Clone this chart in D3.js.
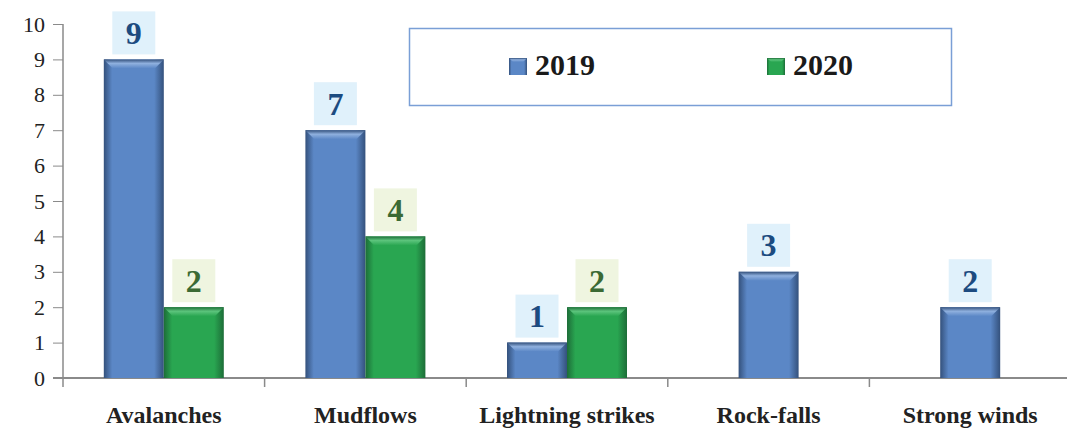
<!DOCTYPE html>
<html lang="en">
<head>
    <meta charset="UTF-8">
    <title>Natural hazards 2019-2020</title>
    <script src="https://d3js.org/d3.v7.min.js"></script>
    <style>
        body {
            margin: 0;
            background: #fff;
            overflow: hidden;
        }

        text {
            font-family: "Liberation Serif", "Times New Roman", serif;
        }

        .y-axis text {
            font-size: 22px;
            fill: #222;
        }

        .x-axis text {
            font-size: 24px;
            font-weight: bold;
            fill: #222;
        }

        .axis path, .axis line {
            stroke: #8a8a8a;
        }
    </style>
</head>
<body>
    <div id="chart"></div>

    <script>
        // data
        const categories = ['Avalanches', 'Mudflows', 'Lightning strikes', 'Rock-falls', 'Strong winds'];
        const years = ['2019', '2020'];
        const values2019 = [9, 7, 1, 3, 2];
        const values2020 = [2, 4, 2, null, null];
        const yTicks = [0, 1, 2, 3, 4, 5, 6, 7, 8, 9, 10];

        const width = 1067, height = 430;
        const x0 = 63, x1 = 1071, yTop = 24, yBottom = 378;
        const barW = 60;

        const svg = d3.select('#chart').append('svg')
            .attr('width', width)
            .attr('height', height);

        const defs = svg.append('defs');

        const palette = {
            '2019': { edge: '#34517c', main: '#5b87c6', light: '#8fb0de', label: '#1c4b80', box: '#e0f1fb' },
            '2020': { edge: '#1d6d38', main: '#29a651', light: '#5cc47c', label: '#3b6a34', box: '#eff5e0' }
        };

        // side gradient + top bevel gradient for each series
        years.forEach(y => {
            const c = palette[y];
            const g = defs.append('linearGradient').attr('id', 'side' + y)
                .attr('x1', '0%').attr('x2', '100%').attr('y1', '0%').attr('y2', '0%');
            g.append('stop').attr('offset', '0%').attr('stop-color', c.edge);
            g.append('stop').attr('offset', '14%').attr('stop-color', c.main);
            g.append('stop').attr('offset', '84%').attr('stop-color', c.main);
            g.append('stop').attr('offset', '100%').attr('stop-color', c.edge);

            const t = defs.append('linearGradient').attr('id', 'top' + y)
                .attr('x1', '0%').attr('x2', '0%').attr('y1', '0%').attr('y2', '100%');
            t.append('stop').attr('offset', '0%').attr('stop-color', c.edge);
            t.append('stop').attr('offset', '45%').attr('stop-color', c.light);
            t.append('stop').attr('offset', '100%').attr('stop-color', c.main);
        });

        const x = d3.scaleBand()
            .domain(categories)
            .range([x0, x1])
            .padding(0);

        const y = d3.scaleLinear()
            .domain([0, 10])
            .range([yBottom, yTop]);

        // y axis
        svg.append('g')
            .attr('class', 'axis y-axis')
            .attr('transform', `translate(${x0},0)`)
            .call(d3.axisLeft(y).tickValues(yTicks).tickSize(10).tickPadding(8).tickSizeOuter(0))
            .call(g => g.select('.domain').attr('d', `M0,${yTop}V${yBottom + 9}`).attr('stroke-width', 1.5));

        // x axis with ticks at the band boundaries
        const xAxis = svg.append('g')
            .attr('class', 'axis x-axis')
            .attr('transform', `translate(0,${yBottom})`);

        xAxis.append('line')
            .attr('x1', x0 - 10).attr('x2', width)
            .attr('stroke-width', 2);

        xAxis.selectAll('.bound')
            .data(categories.slice(1))
            .enter().append('line')
            .attr('class', 'bound')
            .attr('x1', d => x(d)).attr('x2', d => x(d))
            .attr('y1', 0).attr('y2', 9)
            .attr('stroke-width', 1.5);

        xAxis.selectAll('.cat')
            .data(categories)
            .enter().append('text')
            .attr('class', 'cat')
            .attr('x', d => x(d) + x.bandwidth() / 2)
            .attr('y', 45)
            .attr('text-anchor', 'middle')
            .text(d => d);

        // flatten bars; a lone 2019 bar sits in the middle of its band
        const bars = [];
        categories.forEach((cat, i) => {
            const mid = x(cat) + x.bandwidth() / 2;
            const hasBoth = values2020[i] != null;
            if (hasBoth) {
                bars.push({ cat, year: '2019', value: values2019[i], left: mid - barW });
                bars.push({ cat, year: '2020', value: values2020[i], left: mid });
            } else {
                bars.push({ cat, year: '2019', value: values2019[i], left: mid - barW / 2 });
            }
        });

        const bev = 9;
        const barG = svg.selectAll('.bar')
            .data(bars)
            .enter().append('g')
            .attr('class', 'bar');

        barG.append('rect')
            .attr('x', d => d.left)
            .attr('y', d => y(d.value))
            .attr('width', barW)
            .attr('height', d => y(0) - y(d.value))
            .attr('fill', d => `url(#side${d.year})`);

        barG.append('path')
            .attr('d', d => {
                const t = y(d.value);
                return `M${d.left},${t}H${d.left + barW}L${d.left + barW - bev},${t + bev}H${d.left + bev}Z`;
            })
            .attr('fill', d => `url(#top${d.year})`);

        // value labels in small tinted boxes
        const box = 43;
        barG.append('rect')
            .attr('x', d => d.left + barW / 2 - box / 2)
            .attr('y', d => y(d.value) - 5 - box)
            .attr('width', box)
            .attr('height', box)
            .attr('fill', d => palette[d.year].box);

        barG.append('text')
            .attr('x', d => d.left + barW / 2)
            .attr('y', d => y(d.value) - 5 - box / 2 + 11)
            .attr('text-anchor', 'middle')
            .style('font-size', '32px')
            .style('font-weight', 'bold')
            .attr('fill', d => palette[d.year].label)
            .text(d => d.value);

        // legend
        const legend = svg.append('g').attr('class', 'legend');
        legend.append('rect')
            .attr('x', 409.5).attr('y', 28.5)
            .attr('width', 542).attr('height', 77)
            .attr('fill', '#fff')
            .attr('stroke', '#7a9fd6')
            .attr('stroke-width', 1.5);

        const legendX = { '2019': 509, '2020': 767 };
        years.forEach(yr => {
            const item = legend.append('g').attr('transform', `translate(${legendX[yr]},58)`);
            item.append('rect').attr('width', 18).attr('height', 17).attr('fill', `url(#side${yr})`);
            item.append('path')
                .attr('d', 'M0,0H18L14,4H4Z')
                .attr('fill', `url(#top${yr})`);
            item.append('text')
                .attr('x', 26).attr('y', 17)
                .style('font-size', '30px')
                .style('font-weight', 'bold')
                .attr('fill', '#1a1a1a')
                .text(yr);
        });
    </script>
</body>
</html>
